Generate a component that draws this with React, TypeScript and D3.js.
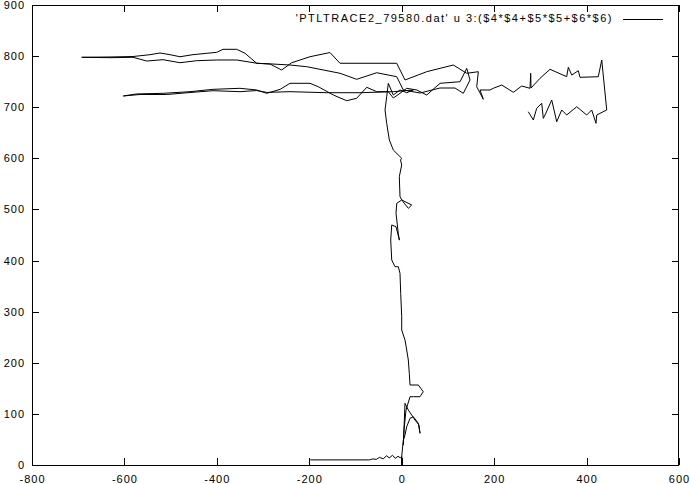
import React from 'react';
import * as d3 from 'd3';

type Pt = [number, number];

const xTicks = [-800, -600, -400, -200, 0, 200, 400, 600];
const yTicks = [0, 100, 200, 300, 400, 500, 600, 700, 800, 900];
const legendLabel = "'PTLTRACE2_79580.dat' u 3:($4*$4+$5*$5+$6*$6)";

// bottom tail near r^2 ~ 10
const tail: Pt[] = [
  [-198, 10], [-70, 10], [-62, 12], [-55, 11], [-48, 15], [-40, 12], [-33, 18],
  [-27, 14], [-20, 19], [-14, 13], [-8, 17], [-3, 14], [0, 17], [0, 0], [0, 17],
];

// the climb along x ~ 0
const rise: Pt[] = [
  [3.5, 49], [7.1, 58.7], [10.8, 74.9], [18, 91.4], [25.1, 94.5], [35.9, 81.6],
  [39.6, 62], [37.4, 78.3], [28.8, 88], [14.3, 107.6], [7.1, 120.7], [3.5, 39],
  [5, 68.5], [9.3, 107.6], [18, 133.6], [25.1, 133.6], [39.6, 133.6], [46.7, 143.4],
  [35.9, 156.5], [18, 156.5], [16.4, 179.4], [14.3, 205.4], [10.8, 225], [7.1, 244.6],
  [0, 264.1], [0, 290.1], [-2.2, 335.9], [-3.7, 375.1], [-7.4, 388], [-14.5, 388],
  [-21.6, 401.1], [-23.8, 440.2], [-21.6, 469.6], [-12.3, 466.2], [-5, 440],
  [-7.4, 453], [-12.3, 492.4], [-10.8, 512], [0, 518.5], [21.6, 508.7], [14.3, 502.2],
  [2.8, 515.1], [-3.7, 524.9], [-5.2, 564.1], [0, 587], [-2.6, 596.7], [0, 600],
  [-18.2, 616.3], [-26.8, 635.9], [-32.5, 668.5], [-36.1, 694.6], [-32.5, 720.6],
  [-29, 746.8],
];

// lower band, going out to the left
const lowerOut: Pt[] = [
  [-18.2, 723.9], [-3.7, 733.7], [10.8, 728.4], [25.1, 733.7], [-18.2, 730.4],
  [-90.2, 728.4], [-162.3, 728.4], [-241.7, 730.4], [-292, 729], [-313.8, 732.6],
  [-349.9, 730.4], [-408.3, 732.3], [-458, 728.8], [-508.5, 724.9], [-566, 724.9],
  [-602.4, 722],
];

// lower band, coming back to the right
const lowerBack: Pt[] = [
  [-573.4, 726], [-516, 727.2], [-458, 730.4], [-408, 735], [-350, 737], [-314, 733.7],
  [-292, 727.2], [-263, 735], [-241.7, 746.8], [-198.4, 746.8], [-180.5, 740.1],
  [-148, 723.9], [-119, 712.7], [-97.4, 717.5], [-75.7, 739], [-54.1, 730.4],
  [-29, 730.4], [-18.2, 718], [-3.7, 727.2], [10.8, 737], [32.5, 733.7], [54.1, 723.9],
  [82.9, 746.8], [126.2, 749.9], [140.7, 776], [147.8, 753.3], [133.3, 727.2],
  [115.3, 737.6], [82.9, 737.6], [39.6, 727.8], [3.5, 733.7],
];

// upper band, going out to the left
const upperOut: Pt[] = [
  [-10.8, 759.7], [-54.1, 767.5], [-97.4, 754.6], [-133.5, 766.4], [-205.6, 779.3],
  [-241.7, 782.6], [-278.5, 784.5], [-313, 786], [-357, 792.4], [-400.3, 792.4],
  [-443.6, 791], [-479.7, 787.1], [-516.5, 793], [-551.8, 790.4], [-581.4, 797.7],
  [-631.2, 796.9], [-692.4, 797.7],
];

// upper band, coming back to the right and on to the far right
const upperBack: Pt[] = [
  [-631.2, 798.3], [-581.4, 799.2], [-544.6, 802.8], [-523, 806.1], [-501.4, 802.8],
  [-479.7, 798.8], [-451.6, 802.8], [-422, 805.5], [-400.3, 807.4], [-386.7, 813.3],
  [-357, 813.3], [-339.1, 805.5], [-313.8, 786], [-285, 784.5], [-259.7, 772.8],
  [-238, 787.1], [-198.4, 798.8], [-155.2, 807], [-133.5, 786], [-10.8, 786],
  [7.1, 753.3], [54.1, 769.5], [111.7, 782.6], [140.7, 766.4], [165.8, 769.5],
  [162.3, 740.1], [176.6, 715.5], [169.4, 733.7], [191.1, 733.7], [198.2, 737],
  [216.4, 743.5], [241.5, 729.2], [259.7, 741.5], [277.6, 737], [279.1, 766.4],
  [279.8, 737.6], [299.3, 756.6], [320.9, 774.2], [357, 759.7], [360.5, 778.1],
  [367.9, 763], [382.1, 771.4], [385.8, 758.5], [425.4, 759.7], [432.8, 792.4],
  [443.6, 694.6],
];

// final zigzag running back to the left
const rightZigzag: Pt[] = [
  [422, 684.8], [420.4, 668.5], [411.1, 694.6], [400.3, 684.8], [378.7, 701],
  [357, 684.8], [346.2, 694.6], [335.4, 671.6], [324.6, 714.1], [310.1, 684.8],
  [306.4, 678.3], [302.9, 707.7], [292.1, 697.9], [284.8, 675], [273.9, 691.2],
];

const trace: Pt[] = [
  ...tail, ...rise, ...lowerOut, ...lowerBack, ...upperOut, ...upperBack, ...rightZigzag,
];

export default function App() {
  const W = 690;
  const H = 484;
  const left = 32;
  const right = 679;
  const top = 5;
  const bottom = 465;
  const x = d3.scaleLinear().domain([-800, 600]).range([left, right]);
  const y = d3.scaleLinear().domain([0, 900]).range([bottom, top]);
  const line = d3.line<Pt>().x((d) => x(d[0])).y((d) => y(d[1]));
  const font = "'Liberation Sans', Arial, Helvetica, sans-serif";
  const tk = 7;

  return (
    <svg
      width={W}
      height={H}
      viewBox={`0 0 ${W} ${H}`}
      style={{ position: 'absolute', left: 0, top: 0, background: '#fff' }}
    >
      <rect x={0} y={0} width={W} height={H} fill="#fff" />
      <g stroke="#000" strokeWidth={1} shapeRendering="crispEdges" fill="none">
        <rect x={left + 0.5} y={top + 0.5} width={right - left - 1} height={bottom - top} />
        {xTicks.map((v) => (
          <g key={'xt' + v}>
            <line x1={Math.round(x(v)) + 0.5} x2={Math.round(x(v)) + 0.5} y1={bottom} y2={bottom - tk} />
            <line x1={Math.round(x(v)) + 0.5} x2={Math.round(x(v)) + 0.5} y1={top} y2={top + tk} />
          </g>
        ))}
        {yTicks.map((v) => (
          <g key={'yt' + v}>
            <line x1={left} x2={left + tk} y1={Math.round(y(v)) + 0.5} y2={Math.round(y(v)) + 0.5} />
            <line x1={right} x2={right - tk} y1={Math.round(y(v)) + 0.5} y2={Math.round(y(v)) + 0.5} />
          </g>
        ))}
      </g>
      <g fontFamily={font} fontSize={11} fill="#000">
        {yTicks.map((v) => (
          <text key={'yl' + v} x={25} y={y(v) + 4} textAnchor="end" letterSpacing={1}>
            {v}
          </text>
        ))}
        {xTicks.map((v) => (
          <text key={'xl' + v} x={x(v) + 0.5} y={483} textAnchor="middle" letterSpacing={1}>
            {v}
          </text>
        ))}
        <text x={613} y={22} textAnchor="end" letterSpacing={1.5}>
          {legendLabel}
        </text>
      </g>
      <line x1={622.5} x2={662.5} y1={19.5} y2={19.5} stroke="#000" strokeWidth={1} shapeRendering="crispEdges" />
      <path d={line(trace) || ''} fill="none" stroke="#000" strokeWidth={1} strokeLinejoin="miter" />
    </svg>
  );
}
